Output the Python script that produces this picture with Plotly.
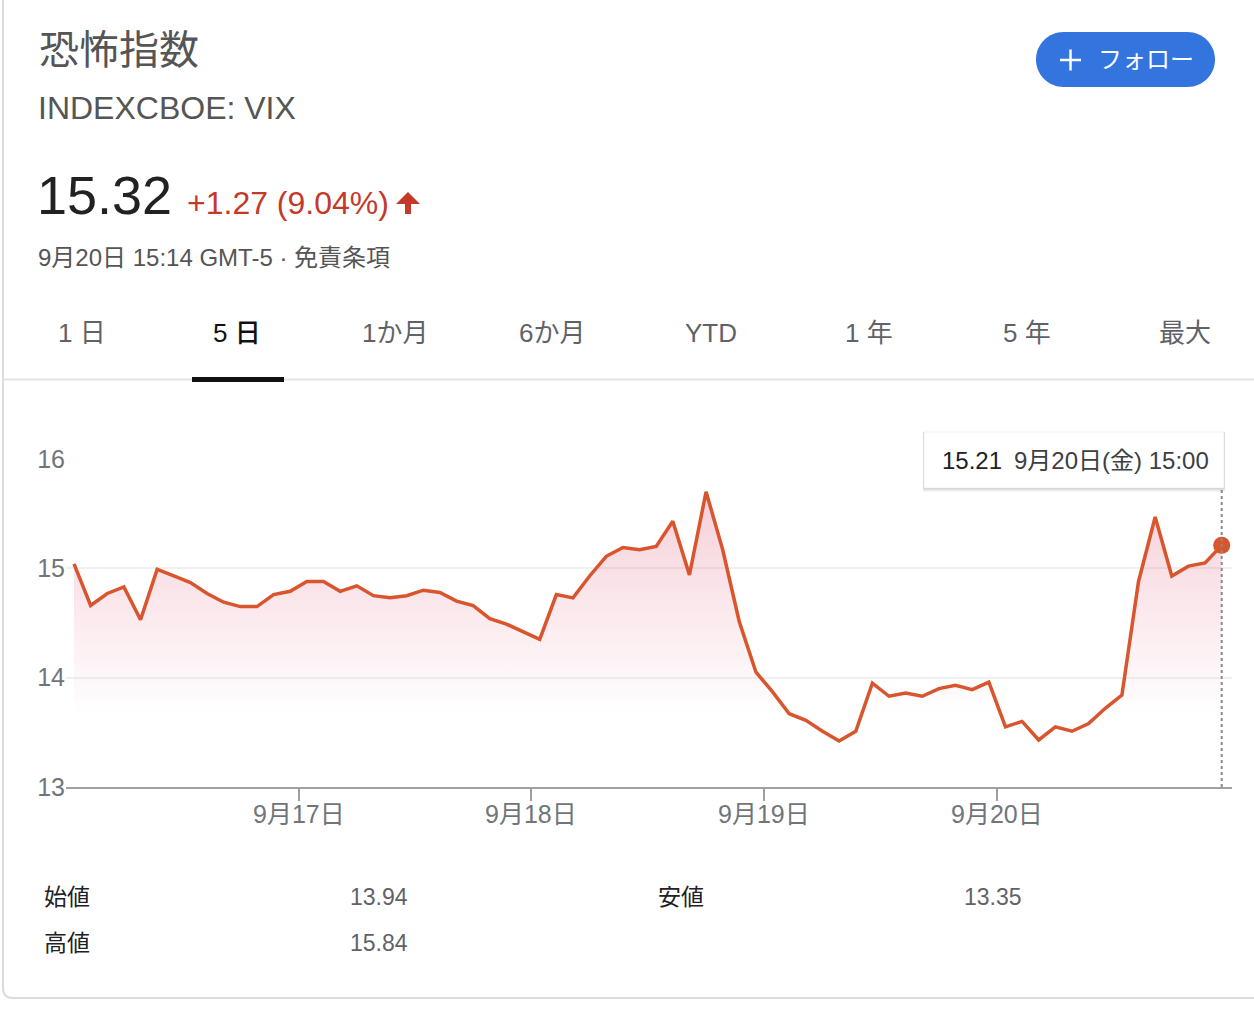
import plotly.graph_objects as go

W, H = 1254, 1016

# ---------------- data ----------------
day_labels = ["9月16日(月)", "9月17日(火)", "9月18日(水)", "9月19日(木)", "9月20日(金)"]
slot_times = ["8:30", "9:00", "9:30", "10:00", "10:30", "11:00", "11:30",
              "12:00", "12:30", "13:00", "13:30", "14:00", "14:30", "15:00"]
day1 = [15.04, 14.66, 14.77, 14.83, 14.53, 14.99, 14.93, 14.87, 14.77, 14.69, 14.65, 14.65, 14.76, 14.79]
day2 = [14.88, 14.88, 14.79, 14.84, 14.75, 14.73, 14.75, 14.80, 14.78, 14.70, 14.66, 14.54, 14.49, 14.42]
day3 = [14.35, 14.76, 14.73, 14.93, 15.11, 15.19, 15.17, 15.20, 15.43, 14.94, 15.70, 15.17, 14.51, 14.05]
day4 = [13.87, 13.67, 13.61, 13.51, 13.42, 13.51, 13.95, 13.83, 13.86, 13.83, 13.90, 13.93, 13.89, 13.96]
day5 = [13.55, 13.60, 13.43, 13.55, 13.51, 13.58, 13.72, 13.84, 14.88, 15.47, 14.93, 15.02, 15.05, 15.21]
x_tick_text = ["9月17日", "9月18日", "9月19日", "9月20日"]
y_ticks = [13, 14, 15, 16]

tabs = ["1 日", "5 日", "1か月", "6か月", "YTD", "1 年", "5 年", "最大"]
selected_tab = 1

title = "恐怖指数"
ticker = "INDEXCBOE: VIX"
price = 15.32
change = 1.27
change_pct = 9.04
timestamp = "9月20日 15:14 GMT-5 · 免責条項"

stat_labels = ["始値", "高値", "安値"]
stat_values = [13.94, 15.84, 13.35]

# ---------------- build ----------------
days = [day1, day2, day3, day4, day5]
values = [v for d in days for v in d]
xs = list(range(len(values)))
per_day = len(slot_times)
tick_pos = [k * per_day - 0.5 for k in range(1, len(days))]

LINE = "#d8552e"
RED = "#c5392a"
FONT = "Liberation Sans, Arial, Noto Sans CJK JP, sans-serif"


def px(x):
    return x / W


def py(y):
    return 1 - y / H


fig = go.Figure()
fig.add_trace(go.Scatter(
    x=xs, y=values, mode="lines",
    line=dict(color=LINE, width=3.5),
    fill="tozeroy",
    fillgradient=dict(type="vertical", start=13.65, stop=15.8,
                      colorscale=[[0, "rgba(215,40,80,0)"], [1, "rgba(215,40,80,0.23)"]]),
    hoverinfo="skip",
))
fig.add_trace(go.Scatter(
    x=[xs[-1]], y=[values[-1]], mode="markers",
    marker=dict(color=LINE, size=17), hoverinfo="skip",
))

plot_l, plot_r = 66, 1232
ax_bottom, ax_top = 787, 459
step = (1221.7 - 74) / (len(values) - 1)
x_lo = (plot_l - 74) / step
x_hi = (plot_r - 74) / step

fig.update_layout(
    width=W, height=H,
    margin=dict(l=0, r=0, t=0, b=0, pad=0, autoexpand=False),
    paper_bgcolor="white", plot_bgcolor="white",
    showlegend=False, hovermode=False,
    font=dict(family=FONT),
    xaxis=dict(domain=[px(plot_l), px(plot_r)], range=[x_lo, x_hi], automargin=False,
               showgrid=False, zeroline=False, showline=True,
               linecolor="#a0a0a0", linewidth=2,
               ticks="outside", ticklen=12, tickwidth=2, tickcolor="#a0a0a0",
               tickvals=tick_pos, showticklabels=False),
    yaxis=dict(domain=[py(ax_bottom), py(ax_top)], range=[13, 16], automargin=False,
               tickvals=y_ticks, showgrid=True, gridcolor="#f0f0f0", gridwidth=2,
               zeroline=False, showline=False, ticks="",
               tickfont=dict(size=25, color="#70757a", family=FONT)),
)

shapes = []
ann = []


def text(x, y, s, size, color, anchor="left", weight=None):
    d = dict(xref="paper", yref="paper", x=px(x), y=py(y), text=s, showarrow=False,
             xanchor=anchor, yanchor="middle",
             font=dict(size=size, color=color, family=FONT))
    if weight:
        d["font"]["weight"] = weight
    ann.append(d)


def P(x, y):
    return f"{px(x):.6f},{py(y):.6f}"


# x tick labels placed on the x data scale
for tv, tt in zip(tick_pos, x_tick_text):
    ann.append(dict(xref="x", yref="paper", x=tv, y=py(814), text=tt, showarrow=False,
                    xanchor="center", yanchor="middle",
                    font=dict(size=25, color="#70757a", family=FONT)))

# card border (left + bottom with rounded corner)
shapes.append(dict(type="path", xref="paper", yref="paper",
                   path=f"M{P(3,0)} L{P(3,988)} Q{P(3,998)} {P(13,998)} L{P(1254,998)}",
                   line=dict(color="#dadce0", width=2), fillcolor="rgba(0,0,0,0)"))

# header
text(37, 50, title, 40, "#555555")
text(36, 108, ticker, 32, "#555555")
text(35, 195, f"{price:.2f}", 54, "#222222")
text(185, 203, f"+{change:.2f} ({change_pct:.2f}%)", 32, RED)
# up arrow
shapes.append(dict(type="path", xref="paper", yref="paper",
                   path=f"M{P(408,192)} L{P(420,204)} L{P(411,204)} L{P(411,214)} L{P(405,214)} L{P(405,204)} L{P(396,204)} Z",
                   line=dict(width=0), fillcolor=RED))
text(36, 257, timestamp, 24, "#555555")

# follow button
k = 0.5523
l, r, t, b = 1036, 1215, 32, 87
rad = (b - t) / 2
cy = (t + b) / 2
cxl, cxr = l + rad, r - rad
pill = (f"M{P(cxl,t)} L{P(cxr,t)} C{P(cxr+k*rad,t)} {P(r,cy-k*rad)} {P(r,cy)} "
        f"C{P(r,cy+k*rad)} {P(cxr+k*rad,b)} {P(cxr,b)} L{P(cxl,b)} "
        f"C{P(cxl-k*rad,b)} {P(l,cy+k*rad)} {P(l,cy)} C{P(l,cy-k*rad)} {P(cxl-k*rad,t)} {P(cxl,t)} Z")
shapes.append(dict(type="path", xref="paper", yref="paper", path=pill,
                   line=dict(width=0), fillcolor="#3474de"))
shapes.append(dict(type="line", xref="paper", yref="paper", x0=px(1060), x1=px(1081), y0=py(60), y1=py(60),
                   line=dict(color="white", width=2.5)))
shapes.append(dict(type="line", xref="paper", yref="paper", x0=px(1070.5), x1=px(1070.5), y0=py(49.5), y1=py(70.5),
                   line=dict(color="white", width=2.5)))
text(1096, 59, "フォロー", 24, "white")

# tabs
tab_centers = [82, 237, 395, 552, 711, 869, 1027, 1185]
for i, (lab, cx) in enumerate(zip(tabs, tab_centers)):
    text(cx, 333, lab, 26, "#111111" if i == selected_tab else "#5f6368", anchor="center",
         weight=500 if i == selected_tab else None)
shapes.append(dict(type="line", xref="paper", yref="paper", x0=px(4), x1=px(1254), y0=py(379.5), y1=py(379.5),
                   line=dict(color="#e3e3e3", width=2)))
shapes.append(dict(type="rect", xref="paper", yref="paper", x0=px(192), x1=px(284), y0=py(382), y1=py(377),
                   line=dict(width=0), fillcolor="#111111"))

# tooltip: dotted guide, shadow, box, text
shapes.append(dict(type="line", xref="x", yref="paper", x0=xs[-1], x1=xs[-1], y0=py(ax_bottom), y1=py(489),
                   line=dict(color="#8a8a8a", width=2, dash="dot")))
bl, bt, br, bb = 924, 432, 1224, 488
for off, a in [(4, 0.03), (3, 0.04), (2, 0.06)]:
    shapes.append(dict(type="rect", xref="paper", yref="paper",
                       x0=px(bl - off / 3), x1=px(br + off / 3), y0=py(bb + off), y1=py(bt),
                       line=dict(width=0), fillcolor=f"rgba(0,0,0,{a})"))
shapes.append(dict(type="rect", xref="paper", yref="paper", x0=px(bl), x1=px(br), y0=py(bb), y1=py(bt),
                   line=dict(color="rgba(0,0,0,0.06)", width=1), fillcolor="white"))
text(940, 460, f"{values[-1]:.2f}", 24, "#202124")
text(1012, 460, f"{day_labels[-1]} {slot_times[-1]}", 24, "#3c4043")

# stats
text(42, 897, stat_labels[0], 23, "#202124")
text(348, 897, f"{stat_values[0]:.2f}", 23, "#5f6368")
text(42, 943, stat_labels[1], 23, "#202124")
text(348, 943, f"{stat_values[1]:.2f}", 23, "#5f6368")
text(656, 897, stat_labels[2], 23, "#202124")
text(962, 897, f"{stat_values[2]:.2f}", 23, "#5f6368")

fig.update_layout(shapes=shapes, annotations=ann)
fig.write_html("out.html")
